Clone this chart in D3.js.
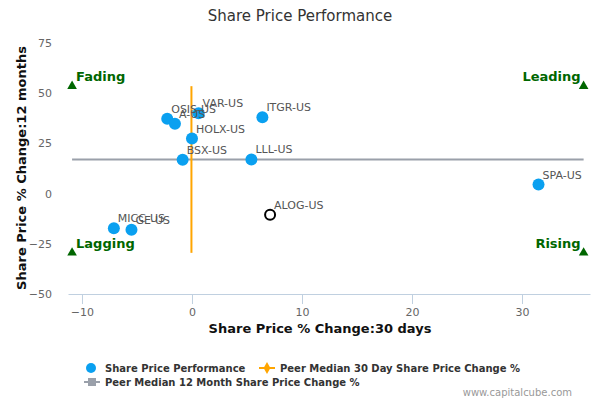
<!DOCTYPE html>
<html>
<head>
<meta charset="utf-8">
<script src="https://cdn.jsdelivr.net/npm/d3@7"></script>
<style>
  body { margin: 0; background: #fff; }
  svg { font-family: "DejaVu Sans", sans-serif; }
</style>
</head>
<body>
<div id="chart"></div>
<script>
// peers: 30 day change vs 12 month change
const tickers = ["SPA-US", "ALOG-US", "ITGR-US", "LLL-US", "BSX-US", "HOLX-US", "VAR-US", "OSIS-US", "A-US", "MICC-US", "GE-US"];
const change30d = [31.5, 7.1, 6.4, 5.4, -0.85, 0.0, 0.6, -2.25, -1.55, -7.1, -5.5];
const change12m = [4.5, -10.5, 38, 17, 16.8, 27.4, 40, 37.3, 34.8, -17.3, -18];
const highlighted = "ALOG-US";

const median30d = -0.05;
const median12m = 17;
const quadX = [-10.9, 35.6];
const quadY = [-29.5, 53.5];
const quadrants = [
  { name: "Fading", x: 0, y: 1 },
  { name: "Leading", x: 1, y: 1 },
  { name: "Lagging", x: 0, y: 0 },
  { name: "Rising", x: 1, y: 0 }
];
const xTicks = [-10, 0, 10, 20, 30];
const yTicks = [-50, -25, 0, 25, 50, 75];

const width = 600;
const height = 400;
const svg = d3.select("#chart").append("svg")
  .attr("width", width)
  .attr("height", height);

const x = d3.scaleLinear().domain([-11.27, 36.18]).range([68, 590]);
const y = d3.scaleLinear().domain([-50, 75]).range([294, 43]);

svg.append("text")
  .attr("x", 300).attr("y", 21)
  .attr("text-anchor", "middle")
  .attr("font-size", 15)
  .attr("fill", "#333")
  .text("Share Price Performance");

// x axis
const xAxis = svg.append("g")
  .attr("transform", `translate(0,${y(-50)})`)
  .call(d3.axisBottom(x).tickValues(xTicks).tickSize(10).tickSizeOuter(0).tickPadding(4));
xAxis.select(".domain").attr("stroke", "#C0D0E0");
xAxis.selectAll(".tick line").attr("stroke", "#C0D0E0");
xAxis.selectAll(".tick text").attr("fill", "#666").attr("font-size", 11).attr("font-family", "DejaVu Sans");

// y axis (labels only)
const yAxis = svg.append("g")
  .attr("transform", `translate(55,0)`)
  .call(d3.axisLeft(y).tickValues(yTicks).tickSize(0).tickPadding(3));
yAxis.select(".domain").remove();
yAxis.selectAll(".tick text").attr("fill", "#666").attr("font-size", 11).attr("font-family", "DejaVu Sans");

svg.append("text")
  .attr("x", 320).attr("y", 333)
  .attr("text-anchor", "middle")
  .attr("font-size", 13).attr("font-weight", "bold")
  .attr("fill", "#111")
  .text("Share Price % Change:30 days");

svg.append("text")
  .attr("transform", `translate(26,168) rotate(-90)`)
  .attr("text-anchor", "middle")
  .attr("font-size", 13).attr("font-weight", "bold")
  .attr("fill", "#111")
  .text("Share Price % Change:12 months");

// median lines
svg.append("line")
  .attr("x1", x(quadX[0])).attr("x2", x(quadX[1]))
  .attr("y1", y(median12m)).attr("y2", y(median12m))
  .attr("stroke", "#9aa0aa").attr("stroke-width", 2);
svg.append("line")
  .attr("x1", x(median30d)).attr("x2", x(median30d))
  .attr("y1", y(quadY[0])).attr("y2", y(quadY[1]))
  .attr("stroke", "#FFA500").attr("stroke-width", 2);

// quadrant markers
const tri = d3.symbol().type(d3.symbolTriangle).size(40);
quadrants.forEach(q => {
  const qx = x(quadX[q.x]);
  const qy = y(quadY[q.y]);
  svg.append("path")
    .attr("d", tri)
    .attr("transform", `translate(${qx},${qy})`)
    .attr("fill", "#006600");
  svg.append("text")
    .attr("x", q.x === 0 ? qx + 4 : qx - 3)
    .attr("y", qy - 5)
    .attr("text-anchor", q.x === 0 ? "start" : "end")
    .attr("font-size", 13).attr("font-weight", "bold")
    .attr("fill", "#006600")
    .text(q.name);
});

// points
const points = tickers.map((t, i) => ({ t, x: change30d[i], y: change12m[i] }));
svg.selectAll("circle.pt")
  .data(points)
  .join("circle")
  .attr("class", "pt")
  .attr("cx", d => x(d.x))
  .attr("cy", d => y(d.y))
  .attr("r", d => d.t === highlighted ? 5 : 6)
  .attr("fill", d => d.t === highlighted ? "#fff" : "#0aa0f0")
  .attr("stroke", d => d.t === highlighted ? "#000" : "none")
  .attr("stroke-width", 2);

svg.selectAll("text.lbl")
  .data(points)
  .join("text")
  .attr("class", "lbl")
  .attr("x", d => x(d.x) + 4)
  .attr("y", d => y(d.y) - 6)
  .attr("font-size", 11)
  .attr("fill", "#555")
  .text(d => d.t);

// legend
const lg = svg.append("g").attr("font-size", 10).attr("font-weight", "bold").attr("fill", "#333");
lg.append("circle").attr("cx", 91).attr("cy", 368).attr("r", 5).attr("fill", "#0aa0f0");
lg.append("text").attr("x", 105).attr("y", 372).text("Share Price Performance");
lg.append("line").attr("x1", 259).attr("x2", 275).attr("y1", 368).attr("y2", 368)
  .attr("stroke", "#FFA500").attr("stroke-width", 2);
lg.append("path").attr("d", d3.symbol().type(d3.symbolDiamond).size(40))
  .attr("transform", "translate(267,368)").attr("fill", "#FFA500");
lg.append("text").attr("x", 280).attr("y", 372).text("Peer Median 30 Day Share Price Change %");
lg.append("line").attr("x1", 84).attr("x2", 100).attr("y1", 382).attr("y2", 382)
  .attr("stroke", "#9aa0aa").attr("stroke-width", 2);
lg.append("rect").attr("x", 88).attr("y", 378).attr("width", 8).attr("height", 8).attr("fill", "#9aa0aa");
lg.append("text").attr("x", 105).attr("y", 386).text("Peer Median 12 Month Share Price Change %");

svg.append("text")
  .attr("x", 572).attr("y", 396)
  .attr("text-anchor", "end")
  .attr("font-size", 10)
  .attr("fill", "#999")
  .text("www.capitalcube.com");
</script>
</body>
</html>
